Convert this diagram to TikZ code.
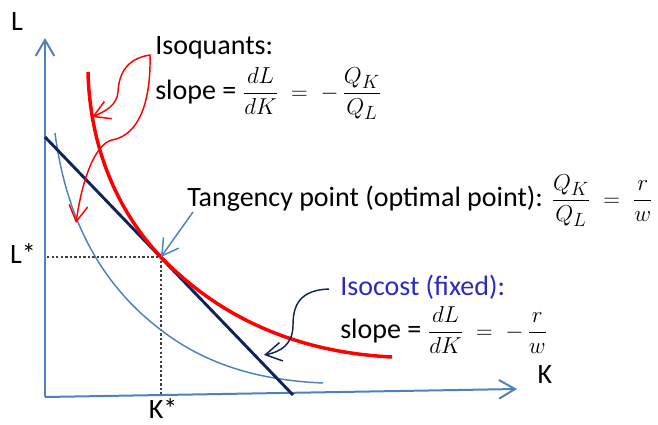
\documentclass[tikz,border=0pt]{standalone}
\usepackage{amsmath}
\usepackage{fontspec}
\setmainfont{Carlito}
\usepackage{tikz}
\usetikzlibrary{arrows.meta,positioning}
\definecolor{axisblue}{HTML}{4F81BD}
\definecolor{costnavy}{HTML}{12235A}
\definecolor{costtext}{HTML}{2B2BC0}
\definecolor{dotgray}{HTML}{404040}
\newcommand{\eqsize}{\fontsize{19}{23}\selectfont}
\tikzset{
  barb/.style={-{Straight Barb[length=12pt,width=14pt]}},
  twobarb/.style={{Straight Barb[length=12pt,width=14pt]}-{Straight Barb[length=12pt,width=14pt]}},
  lbl/.style={anchor=base west, inner sep=0pt},
}

\begin{document}
\begin{tikzpicture}[x=0.75pt, y=-0.75pt, font=\fontsize{21}{25}\selectfont]
  \useasboundingbox (0,0) rectangle (658,425);
  % axes
  \coordinate (O) at (45,397);
  \draw[axisblue, line width=1.5pt, barb] (O) -- (45,38) coordinate (ytop);
  \draw[axisblue, line width=1.5pt, barb] (O) -- (517,389) coordinate (xend);
  \node (Llab) at (17,22) {L};
  \node (Klab) at (545,375) {K};
  % optimum
  \coordinate (T) at (161,257);
  \node (Lstar) at (23,254) {L*};
  \node (Kstar) at (163,409) {K*};
  \draw[dotgray, line width=1.8pt, dash pattern=on 1.8pt off 1.6pt]
      (47,257) -- (T) -- (161,394);
  % lower isoquant
  \draw[axisblue, line width=1.1pt] (55,133) .. controls (65,210) and (95,280) .. (161,330)
      .. controls (200,360) and (250,380) .. (323,383);
  % isocost
  \draw[costnavy, line width=2.2pt] (45,137) -- (293,395);
  % isoquant touching it
  \draw[red, line width=2.6pt] (88,72) .. controls (90,150) and (119,213) .. (T)
      .. controls (215,313) and (290,352) .. (392,357);
  % texts
  \node[lbl] (isoq) at (155,54) {Isoquants:};
  \node[lbl] (isoqslope) at (155,99)
      {slope = {\eqsize$\dfrac{dL}{dK}\;=\;-\,\dfrac{Q_K}{Q_L}$}};
  \node[lbl] (tang) at (187,206)
      {Tangency point (optimal point): {\eqsize$\dfrac{Q_K}{Q_L}\;=\;\dfrac{r}{w}$}};
  \node[lbl, text=costtext] (isocost) at (340,295) {Isocost (fixed):};
  \node[lbl] (costslope) at (340,338)
      {slope = {\eqsize$\dfrac{dL}{dK}\;=\;-\,\dfrac{r}{w}$}};
  % pointers
  \coordinate (q1) at (92,117);
  \coordinate (q2) at (76,223);
  \coordinate (qtop) at (150,55);
  \draw[red, line width=1.1pt, twobarb] (q1) .. controls (106,111) and (117,105) .. (118,92)
      .. controls (119,70) and (130,58) .. (qtop)
      .. controls (151,100) and (140,135) .. (112,140)
      .. controls (95,144) and (82,180) .. (q2);
  \coordinate (tfrom) at (193,212);
  \draw[axisblue, line width=1.1pt, barb] (tfrom) -- (T);
  \coordinate (cfrom) at (329,289);
  \coordinate (cto) at (264,355);
  \draw[costnavy, line width=1.1pt, barb] (cfrom) .. controls (300,290) and (293,305) .. (293,325)
      .. controls (293,345) and (280,352) .. (cto);
\end{tikzpicture}
\end{document}
